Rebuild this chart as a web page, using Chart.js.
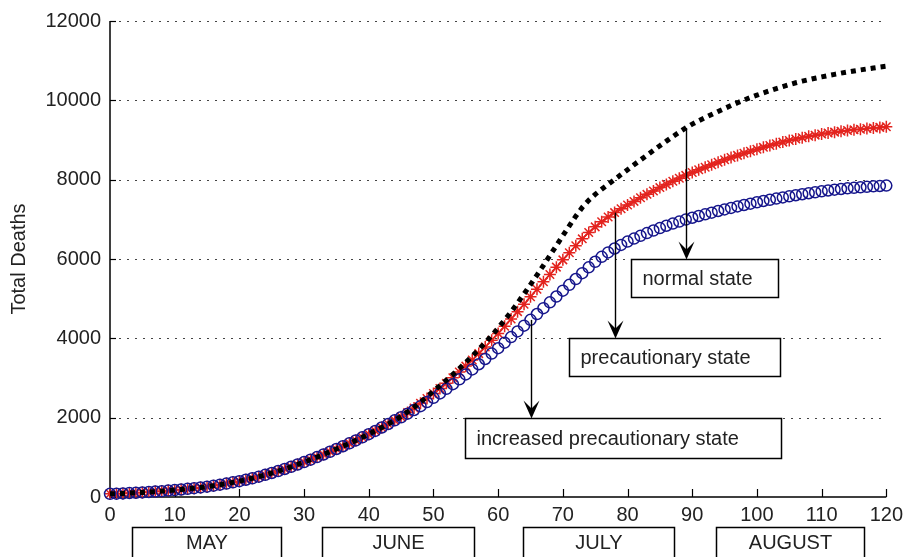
<!DOCTYPE html>
<html>
<head>
<meta charset="utf-8">
<script src="https://cdn.jsdelivr.net/npm/chart.js@4.4.0/dist/chart.umd.min.js"></script>
<style>
  body { margin: 0; background: #fff; }
  canvas { display: block; }
</style>
</head>
<body>
<canvas id="chart" width="909" height="557"></canvas>
<script>
// days since start of May
const days = [
  0,1,2,3,4,5,6,7,8,9,10,11,12,13,14,15,16,17,18,19,20,21,22,23,24,25,26,27,28,29,30,
  31,32,33,34,35,36,37,38,39,40,41,42,43,44,45,46,47,48,49,50,51,52,53,54,55,56,57,58,59,60,
  61,62,63,64,65,66,67,68,69,70,71,72,73,74,75,76,77,78,79,80,81,82,83,84,85,86,87,88,89,90,
  91,92,93,94,95,96,97,98,99,100,101,102,103,104,105,106,107,108,109,110,111,112,113,114,115,116,117,118,119,120
];

// days 0-44, the three curves are on top of each other
const earlyDeaths = [
  80,85,91,98,106,115,125,136,148,161,
  175,190,206,223,241,261,285,311,339,369,
  400,435,472,512,558,605,655,707,762,820,
  880,942,1006,1072,1140,1210,1280,1352,1427,1505,
  1585,1667,1752,1840,1932
];

// days 45-120
const normalTail = [
  2030,2145,2265,2392,2527,2670,2805,2945,3090,3240,
  3395,3555,3720,3890,4070,4260,4460,4670,4890,5120,
  5355,5595,5840,6088,6338,6588,6836,7080,7300,7480,
  7630,7760,7884,8006,8128,8252,8375,8497,8618,8738,
  8856,8972,9086,9197,9305,9400,9485,9565,9643,9720,
  9795,9868,9938,10006,10070,10130,10188,10243,10296,10347,
  10396,10443,10483,10521,10557,10591,10624,10655,10685,10713,
  10740,10766,10791,10815,10838,10860
];
const precautionTail = [
  2020,2128,2243,2363,2485,2610,2735,2865,3005,3150,
  3300,3455,3615,3780,3950,4125,4305,4488,4673,4860,
  5048,5236,5424,5610,5795,5978,6158,6335,6508,6670,
  6810,6940,7060,7170,7265,7360,7452,7542,7630,7716,
  7800,7881,7959,8035,8109,8180,8248,8314,8378,8440,
  8500,8557,8612,8665,8717,8767,8815,8861,8905,8947,
  8987,9024,9059,9092,9122,9150,9175,9198,9219,9238,
  9256,9273,9289,9304,9318,9332
];
const increasedTail = [
  2010,2100,2193,2290,2393,2500,2612,2727,2845,2966,
  3090,3217,3347,3480,3615,3752,3891,4032,4175,4320,
  4466,4613,4760,4907,5054,5201,5348,5495,5642,5790,
  5930,6055,6165,6265,6355,6440,6515,6585,6653,6718,
  6780,6838,6892,6944,6993,7040,7084,7127,7169,7210,
  7250,7288,7325,7361,7396,7430,7462,7493,7523,7552,
  7580,7607,7633,7658,7682,7705,7727,7747,7765,7781,
  7795,7808,7820,7831,7841,7850
];

const normalState = earlyDeaths.concat(normalTail);
const precautionaryState = earlyDeaths.concat(precautionTail);
const increasedState = earlyDeaths.concat(increasedTail);

const months = ['MAY', 'JUNE', 'JULY', 'AUGUST'];
const notes = ['normal state', 'precautionary state', 'increased precautionary state'];

// layout of the boxes, in axis units
const monthSpans = [[3.4, 26.5], [32.8, 56.2], [63.8, 87.2], [93.7, 116.6]];
const noteBoxes = [
  { series: normalState, day: 89, x0: 80.5, x1: 103.2, top: 6000, h: 38 },
  { series: precautionaryState, day: 78, x0: 71, x1: 103.5, top: 4000, h: 38 },
  { series: increasedState, day: 65, x0: 54.8, x1: 103.7, top: 2000, h: 40 }
];

const FONT = "'Liberation Sans', Arial, sans-serif";
const TEXT = '#222';
const toXY = vals => vals.map((v, i) => ({ x: days[i], y: v }));

const matlabLook = {
  id: 'matlabLook',
  beforeDatasetsDraw(chart) {
    const { ctx, chartArea: a, scales: { x, y } } = chart;
    ctx.save();
    // dotted horizontal grid
    ctx.strokeStyle = '#444';
    ctx.lineWidth = 1;
    ctx.setLineDash([2, 6]);
    y.ticks.forEach(t => {
      if (t.value === 0) return;
      const py = Math.round(y.getPixelForValue(t.value)) + 0.5;
      ctx.beginPath();
      ctx.moveTo(a.left + 9, py);
      ctx.lineTo(a.right, py);
      ctx.stroke();
    });
    ctx.setLineDash([]);
    // axes
    ctx.strokeStyle = '#000';
    ctx.lineWidth = 1.5;
    ctx.beginPath();
    ctx.moveTo(a.left, a.top);
    ctx.lineTo(a.left, a.bottom);
    ctx.lineTo(a.right, a.bottom);
    ctx.stroke();
    // inward tick marks
    ctx.lineWidth = 1.2;
    y.ticks.forEach(t => {
      const py = Math.round(y.getPixelForValue(t.value)) + 0.5;
      ctx.beginPath();
      ctx.moveTo(a.left, py);
      ctx.lineTo(a.left + 6, py);
      ctx.stroke();
    });
    x.ticks.forEach(t => {
      const px = Math.round(x.getPixelForValue(t.value)) + 0.5;
      ctx.beginPath();
      ctx.moveTo(px, a.bottom);
      ctx.lineTo(px, a.bottom - 8);
      ctx.stroke();
    });
    ctx.restore();
  },
  afterDatasetsDraw(chart) {
    const { ctx, chartArea: a, scales: { x, y } } = chart;
    ctx.save();
    ctx.font = '20px ' + FONT;
    ctx.textBaseline = 'middle';

    // annotation boxes with arrows
    noteBoxes.forEach((b, i) => {
      const left = Math.round(x.getPixelForValue(b.x0)) + 0.5;
      const right = Math.round(x.getPixelForValue(b.x1)) + 0.5;
      const top = Math.round(y.getPixelForValue(b.top)) + 0.5;
      ctx.fillStyle = '#fff';
      ctx.fillRect(left, top, right - left, b.h);
      ctx.strokeStyle = '#000';
      ctx.lineWidth = 1.5;
      ctx.strokeRect(left, top, right - left, b.h);
      ctx.fillStyle = TEXT;
      ctx.textAlign = 'left';
      ctx.fillText(notes[i], left + 11, top + b.h / 2 + 1);

      const ax = Math.round(x.getPixelForValue(b.day)) + 0.5;
      const ay = y.getPixelForValue(b.series[b.day]);
      ctx.lineWidth = 1.4;
      ctx.beginPath();
      ctx.moveTo(ax, ay);
      ctx.lineTo(ax, top - 8);
      ctx.stroke();
      ctx.fillStyle = '#000';
      ctx.beginPath();
      ctx.moveTo(ax, top);
      ctx.lineTo(ax - 8, top - 18);
      ctx.lineTo(ax, top - 10);
      ctx.lineTo(ax + 8, top - 18);
      ctx.closePath();
      ctx.fill();
    });

    // month boxes under the axis
    const mTop = a.bottom + 30.5;
    months.forEach((m, i) => {
      const left = Math.round(x.getPixelForValue(monthSpans[i][0])) + 0.5;
      const right = Math.round(x.getPixelForValue(monthSpans[i][1])) + 0.5;
      ctx.fillStyle = '#fff';
      ctx.fillRect(left, mTop, right - left, 40);
      ctx.strokeStyle = '#000';
      ctx.lineWidth = 1.5;
      ctx.strokeRect(left, mTop, right - left, 40);
      ctx.fillStyle = TEXT;
      ctx.textAlign = 'center';
      ctx.fillText(m, (left + right) / 2, mTop + 16);
    });
    ctx.restore();
  }
};

new Chart(document.getElementById('chart'), {
  type: 'line',
  data: {
    datasets: [
      {
        label: 'normal state',
        data: toXY(normalState),
        borderColor: '#000',
        borderWidth: 5,
        borderDash: [5, 5],
        borderCapStyle: 'butt',
        pointRadius: 0,
        fill: false,
        clip: false,
        order: 0
      },
      {
        label: 'increased precautionary state',
        data: toXY(increasedState),
        showLine: false,
        pointStyle: 'circle',
        pointRadius: 5.5,
        pointBorderWidth: 1.5,
        pointBorderColor: '#16168c',
        pointBackgroundColor: 'rgba(0,0,0,0)',
        clip: false,
        order: 1
      },
      {
        label: 'precautionary state',
        data: toXY(precautionaryState),
        borderColor: '#e3231e',
        borderWidth: 1.5,
        pointStyle: 'star',
        pointRadius: 6,
        pointBorderWidth: 1.5,
        pointBorderColor: '#e3231e',
        pointBackgroundColor: '#e3231e',
        clip: false,
        order: 2
      }
    ]
  },
  options: {
    responsive: false,
    animation: false,
    layout: { padding: { top: 21, right: 19, left: 0, bottom: 0 } },
    plugins: { legend: { display: false }, tooltip: { enabled: false } },
    scales: {
      x: {
        type: 'linear',
        min: 0,
        max: 120,
        afterFit: s => { s.height = 60; },
        grid: { display: false, drawTicks: false },
        border: { display: false },
        ticks: {
          stepSize: 10,
          autoSkip: false,
          maxRotation: 0,
          padding: 6,
          color: TEXT,
          font: { family: FONT, size: 20 }
        }
      },
      y: {
        min: 0,
        max: 12000,
        afterFit: s => { s.width = 110; },
        grid: { display: false, drawTicks: false },
        border: { display: false },
        title: {
          display: true,
          text: 'Total Deaths',
          color: TEXT,
          padding: { top: 7 },
          font: { family: FONT, size: 20 }
        },
        ticks: {
          stepSize: 2000,
          padding: 9,
          color: TEXT,
          font: { family: FONT, size: 20 },
          callback: v => String(v)
        }
      }
    }
  },
  plugins: [matlabLook]
});
</script>
</body>
</html>
